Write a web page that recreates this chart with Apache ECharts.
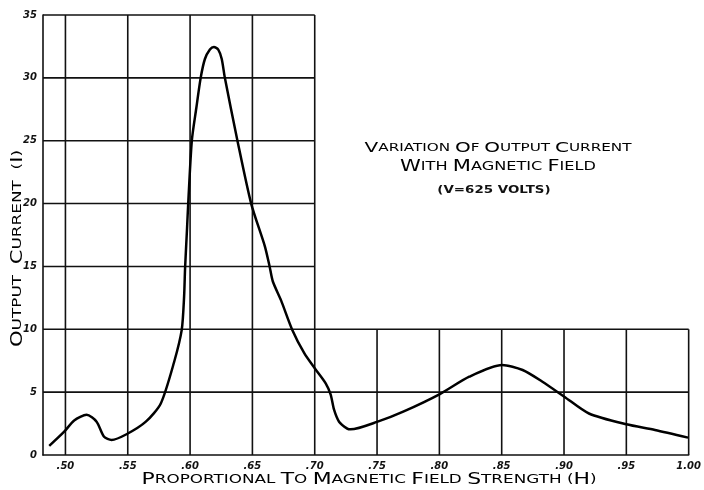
<!DOCTYPE html>
<html>
<head>
<meta charset="utf-8">
<script src="https://cdn.jsdelivr.net/npm/echarts@6/dist/echarts.min.js"></script>
<style>html,body{margin:0;padding:0;background:#fff}#c{width:704px;height:490px}</style>
</head>
<body>
<div id="c"></div>
<script>
// ---- data ----
const fieldH = [0.487,0.499,0.507,0.517,0.525,0.531,0.537,0.549,0.5645,0.5765,0.5872,0.5933,0.5952,0.596,0.5975,0.5985,0.6014,0.605,0.6085,0.6119,0.6159,0.6191,0.6226,0.6254,0.6279,0.638,0.649,0.660,0.6638,0.6664,0.673,0.682,0.6916,0.700,0.7088,0.7128,0.7155,0.7195,0.7261,0.7288,0.7505,0.771,0.8004,0.824,0.8503,0.8668,0.8827,0.9002,0.92,0.95,0.973,0.9995];
const outputI = [0.72,1.85,2.75,3.2,2.65,1.45,1.2,1.65,2.65,4.1,7.4,9.95,12.6,14.9,17.9,20.0,25.0,27.6,30.0,31.5,32.25,32.45,32.25,31.5,30.0,25.0,20.0,16.6,15.0,13.8,12.3,9.95,8.1,6.9,5.7,4.8,3.6,2.65,2.1,2.04,2.65,3.45,4.85,6.23,7.16,6.76,5.83,4.64,3.3,2.44,1.99,1.38];
const xTicks = [0.50,0.55,0.60,0.65,0.70,0.75,0.80,0.85,0.90,0.95,1.00];
const yTicks = [0,5,10,15,20,25,30,35];
const xMin = 0.482, xMax = 1.00, yMax = 35;
const lowerTop = 10, upperRight = 0.70;
const annotation = ['VARIATION OF OUTPUT CURRENT','WITH MAGNETIC FIELD','(V=625 VOLTS)'];
const xTitle = 'PROPORTIONAL TO MAGNETIC FIELD STRENGTH (H)';
const yTitle = 'OUTPUT  CURRENT  (I)';

const FONT = '"DejaVu Sans", sans-serif';
const mctx = document.createElement('canvas').getContext('2d');
function tw(t, size){ mctx.font = size + 'px ' + FONT; return mctx.measureText(t).width; }

// small-caps style rich text; returns {text, width}
function sc(str, bs, ss){
  let w = 0;
  const parts = str.split(' ').map(word => {
    if (!word) return '';
    let i = 0, pre = '';
    while (i < word.length && /[()=]/.test(word[i])) { pre += word[i]; i++; }
    const first = word[i] || '';
    const rest = word.slice(i+1);
    w += tw(pre, ss) + tw(first, bs) + tw(rest, ss);
    return (pre ? '{s|'+pre+'}' : '') + '{b|'+first+'}' + (rest ? '{s|'+rest+'}' : '');
  });
  w += tw(' ', ss) * (parts.length - 1);
  return {text: parts.join('{s| }'), width: w};
}
const rich = (b, s) => ({ b:{fontSize:b, fontFamily:FONT, color:'#111'}, s:{fontSize:s, fontFamily:FONT, color:'#111'} });

function label(str, cx, cy, bs, ss, targetW, rot){
  const r = sc(str, bs, ss);
  return {type:'text', x:cx, y:cy, rotation:rot||0, scaleX: targetW / r.width,
    style:{text:r.text, align:'center', verticalAlign:'middle', rich:rich(bs, ss)}};
}

const vLines = xTicks.map(x => [x, x <= upperRight + 1e-9 ? yMax : lowerTop]);
const hLines = yTicks.filter(y => y > 0).map(y => [y, y <= lowerTop ? xMax : upperRight]);

const chart = echarts.init(document.getElementById('c'), null, {renderer:'canvas'});
chart.setOption({
  animation:false,
  backgroundColor:'#fff',
  grid:{left:43, right:10, top:15, bottom:35},
  xAxis:{type:'value', min:xMin, max:xMax,
    axisLine:{show:true, lineStyle:{color:'#111', width:1.6}},
    axisTick:{show:false},
    splitLine:{show:false},
    axisLabel:{customValues:xTicks, margin:6, fontSize:10, fontStyle:'italic', fontWeight:'bold', fontFamily:FONT, color:'#111',
      formatter: v => v >= 0.999 ? '1.00' : '.' + Math.round(v*100)}
  },
  yAxis:{type:'value', min:0, max:yMax, interval:5,
    axisLine:{show:true, lineStyle:{color:'#111', width:1.6}},
    axisTick:{show:false},
    splitLine:{show:false},
    axisLabel:{margin:6, fontSize:10, fontStyle:'italic', fontWeight:'bold', fontFamily:FONT, color:'#111'}
  },
  series:[
    {type:'custom', silent:true, data:vLines, encode:{x:0,y:1}, clip:false,
      renderItem:(p, api) => {
        const a = api.coord([api.value(0), 0]), b = api.coord([api.value(0), api.value(1)]);
        return {type:'line', shape:{x1:a[0],y1:a[1],x2:b[0],y2:b[1]}, style:{stroke:'#111', lineWidth:1.6}};
      }},
    {type:'custom', silent:true, data:hLines, encode:{x:1,y:0}, clip:false,
      renderItem:(p, api) => {
        const a = api.coord([xMin, api.value(0)]), b = api.coord([api.value(1), api.value(0)]);
        return {type:'line', shape:{x1:a[0],y1:a[1],x2:b[0],y2:b[1]}, style:{stroke:'#111', lineWidth:1.6}};
      }},
    {type:'line', data:fieldH.map((x,i)=>[x, outputI[i]]), smooth:0.25, symbol:'none',
      lineStyle:{color:'#000', width:2.5}}
  ],
  graphic:[
    label(annotation[0], 498, 148.5, 14.5, 11, 267),
    label(annotation[1], 498, 167.5, 15, 11.5, 196),
    {type:'text', x:494, y:190, scaleX:1.22, style:{text:annotation[2], align:'center', verticalAlign:'middle', font:'bold 11px '+FONT, fill:'#111'}},
    label(xTitle, 369, 480, 15, 11.5, 455),
    label(yTitle, 18, 248.5, 15, 12, 197, Math.PI/2)
  ]
});
</script>
</body>
</html>
